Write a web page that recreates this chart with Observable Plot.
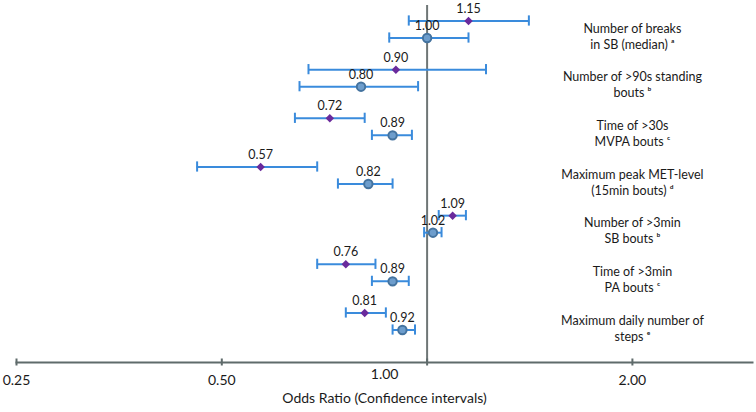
<!DOCTYPE html>
<html>
<head>
<meta charset="utf-8">
<script src="https://cdn.jsdelivr.net/npm/d3@7"></script>
<script src="https://cdn.jsdelivr.net/npm/@observablehq/plot@0.6"></script>
<style>
  html, body { margin: 0; padding: 0; background: #fff; }
</style>
</head>
<body>
<div id="chart"></div>
<script>
// ---- data ----
const outcomes = [
  "Number of breaks\nin SB (median) ᵃ",
  "Number of >90s standing\nbouts ᵇ",
  "Time of >30s\nMVPA bouts ᶜ",
  "Maximum peak MET-level\n(15min bouts) ᵈ",
  "Number of >3min\nSB bouts ᵇ",
  "Time of >3min\nPA bouts ᶜ",
  "Maximum daily number of\nsteps ᵉ"
];
// series 1 (diamonds)
const orA = [1.15, 0.90, 0.72, 0.57, 1.09, 0.76, 0.81];
const loA = [0.94, 0.67, 0.64, 0.46, 1.04, 0.69, 0.76];
const hiA = [1.41, 1.22, 0.81, 0.69, 1.14, 0.84, 0.87];
// series 2 (circles)
const orB = [1.00, 0.80, 0.89, 0.82, 1.02, 0.89, 0.92];
const loB = [0.88, 0.65, 0.83, 0.74, 0.99, 0.83, 0.89];
const hiB = [1.15, 0.97, 0.95, 0.89, 1.05, 0.94, 0.96];
const xTicks = [0.25, 0.5, 1, 2];
const axisTitle = "Odds Ratio (Confidence intervals)";

// ---- build table ----
const OFF = 0.175, CAP = 0.105;
const rowsA = outcomes.map((o, i) => ({i, y: i - OFF, or: orA[i], lo: loA[i], hi: hiA[i], s: "A"}));
const rowsB = outcomes.map((o, i) => ({i, y: i + OFF, or: orB[i], lo: loB[i], hi: hiB[i], s: "B"}));
const all = rowsA.concat(rowsB);
const caps = all.flatMap(d => [{x: d.lo, y: d.y}, {x: d.hi, y: d.y}]);

const FONT = "Lato, 'Open Sans', 'DejaVu Sans', sans-serif";
const ciColor = "#3a8bdc";
const fmt = d3.format(".2f");

const chart = Plot.plot({
  width: 756,
  height: 412,
  marginTop: 5,
  marginBottom: 50,
  marginLeft: 16,
  marginRight: 4,
  x: {type: "log", domain: [0.25, 3.0]},
  y: {domain: [0, 6], range: [29, 321], axis: null},
  style: {fontFamily: FONT, color: "#1a1a1a", background: "#fff"},
  marks: [
    // reference line at OR = 1
    Plot.ruleX([1], {stroke: "#6f7676", strokeWidth: 2}),
    // x axis line
    Plot.frame({anchor: "bottom", stroke: "#5f6b6b", strokeWidth: 2}),
    Plot.axisX({
      ticks: xTicks, tickSize: 7, dy: -3.5, tickPadding: 9,
      stroke: "#5f6b6b", strokeWidth: 2,
      tickFormat: d => d === 1 ? "" : fmt(d),
      fontSize: 14, label: null
    }),
    Plot.text([1], {x: d => d, text: d => fmt(d), frameAnchor: "bottom", dy: 16, dx: -42.5, fontSize: 14}),
    Plot.text([axisTitle], {frameAnchor: "bottom", text: d => d, dy: 40, fontSize: 14}),
    // confidence intervals
    Plot.ruleY(all, {y: "y", x1: "lo", x2: "hi", stroke: ciColor, strokeWidth: 2}),
    Plot.ruleX(caps, {x: "x", y1: d => d.y - CAP, y2: d => d.y + CAP, stroke: ciColor, strokeWidth: 2}),
    // points
    Plot.dot(rowsA, {x: "or", y: "y", symbol: "square", rotate: 45, r: 3.4, fill: "#6a2a9c"}),
    Plot.dot(rowsB, {x: "or", y: "y", r: 4.2, fill: "#6d9dcc", stroke: "#44739f", strokeWidth: 2}),
    // value labels
    Plot.text(all, {x: "or", y: "y", text: d => fmt(d.or), dy: -12, fontSize: 12.5}),
    // outcome labels
    Plot.text(outcomes, {x: () => 2, y: (d, i) => i, text: d => d, dy: 6, fontSize: 12.5, lineHeight: 1.3})
  ]
});
document.getElementById("chart").appendChild(chart);
</script>
</body>
</html>
